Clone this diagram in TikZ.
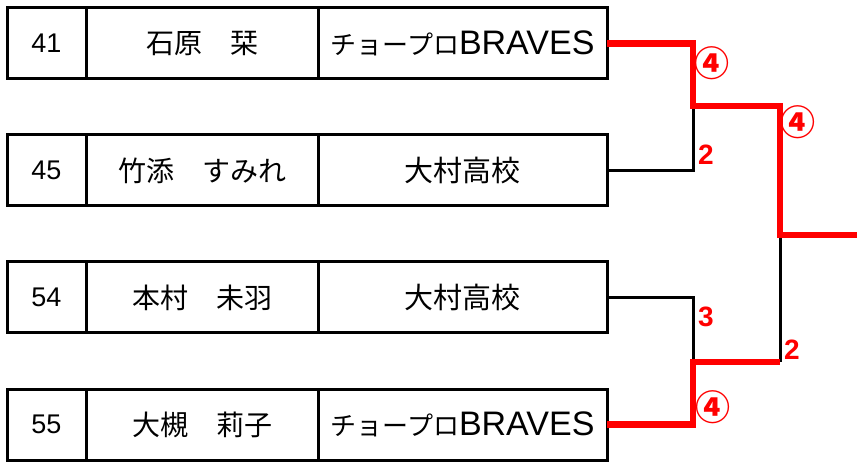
\documentclass[tikz,border=0pt]{standalone}
\usepackage{fontspec}
\newfontfamily\cjk{Noto Sans CJK JP}
\newfontfamily\lat{Liberation Sans}
\newcommand\braves{{\fontsize{26}{30}\selectfont チョープロ}{\lat\fontsize{34}{36}\selectfont BRAVES}}
\begin{document}
\begin{tikzpicture}[x=1pt,y=-1pt,
  cell/.style={draw,line width=3pt,minimum height=71pt,inner sep=0pt,outer sep=0pt,anchor=north west},
  numcell/.style={cell,minimum width=79pt,font=\lat\fontsize{27}{30}\selectfont},
  namecell/.style={cell,minimum width=232pt,font=\cjk\fontsize{28}{30}\selectfont},
  teamcell/.style={cell,minimum width=289pt,font=\cjk\fontsize{29}{30}\selectfont},
  blackline/.style={draw=black,line width=3pt},
  redline/.style={draw=red,line width=6.5pt},
  circ/.style={text=red,font=\cjk\bfseries\fontsize{35}{36}\selectfont,inner sep=0pt},
  score/.style={text=red,font=\lat\bfseries\fontsize{28}{30}\selectfont,inner sep=0pt}]
\useasboundingbox (0,0) rectangle (857,462);
% row 1
\node[numcell]  (n1) at (7,8)   {41};
\node[namecell] (m1) at (86,8)  {石原　栞};
\node[teamcell] (t1) at (318,8) {\braves};
% row 2
\node[numcell]  (n2) at (7,135)   {45};
\node[namecell] (m2) at (86,135)  {竹添　すみれ};
\node[teamcell] (t2) at (318,135) {大村高校};
% row 3
\node[numcell]  (n3) at (7,262)   {54};
\node[namecell] (m3) at (86,262)  {本村　未羽};
\node[teamcell] (t3) at (318,262) {大村高校};
% row 4
\node[numcell]  (n4) at (7,389)   {55};
\node[namecell] (m4) at (86,389)  {大槻　莉子};
\node[teamcell] (t4) at (318,389) {\braves};
% junctions
\coordinate (a1) at (693,106);
\coordinate (a2) at (693,362);
\coordinate (f)  at (780,235);
\coordinate (e)  at (857,235);
% black (losing) lines
\draw[blackline] (t2.east) -| (a1);
\draw[blackline] (t3.east) -| (a2);
\draw[blackline] (a2 -| f) -- (f);
% red (winning) lines
\draw[redline] (t1.east) -| (a1) -- (a1 -| f) -- (f) -- (e);
\draw[redline] (t4.east) -| (a2) -- (a2 -| f);
% scores
\node[circ]  (c1) at (712,63)  {④};
\node[circ]  (c2) at (798,122) {④};
\node[score] (s1) at (706,155) {2};
\node[score] (s2) at (706,317) {3};
\node[score] (s3) at (792,350) {2};
\node[circ]  (c3) at (713,407) {④};
\end{tikzpicture}
\end{document}
